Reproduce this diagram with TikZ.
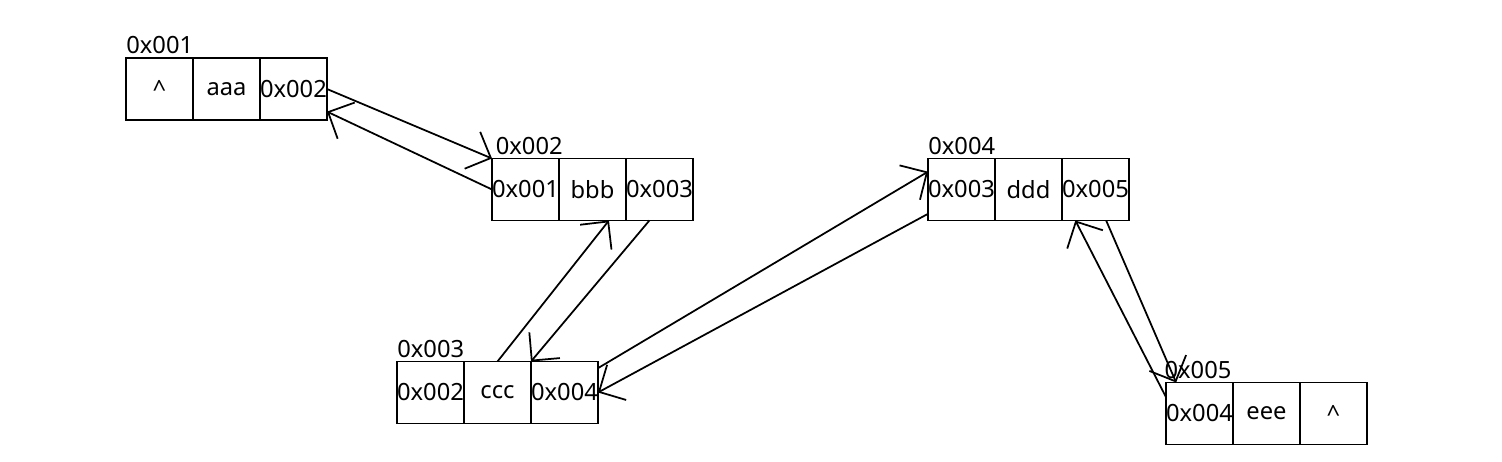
\documentclass[tikz,border=0pt]{standalone}
\usepackage{fontspec}
\setmainfont{Noto Sans}
\usetikzlibrary{arrows.meta,positioning}

\tikzset{
  cell/.style={draw, line width=1pt, minimum width=1.34cm, minimum height=1.24cm,
    inner sep=0pt, outer sep=0pt, font=\fontsize{13.5}{15}\selectfont},
  addr/.style={inner sep=0pt, font=\fontsize{13.5}{15}\selectfont},
  link/.style={line width=1pt, -{Straight Barb[length=4mm,width=8mm]}}
}

\begin{document}
\begin{tikzpicture}[x=0.02cm,y=-0.02cm]
  \useasboundingbox (0,0) rectangle (1502,462);

  % node 0x001
  \node[cell] (n1p) at (159.5,89) {\textasciicircum};
  \node[cell, right=0pt of n1p] (n1d) {aaa};
  \node[cell, right=0pt of n1d] (n1n) {0x002};
  \node[addr, above right=2pt and 0pt of n1p.north west] (a1) {0x001};

  % node 0x002
  \node[cell] (n2p) at (525.5,189.5) {0x001};
  \node[cell, right=0pt of n2p] (n2d) {bbb};
  \node[cell, right=0pt of n2d] (n2n) {0x003};
  \node[addr, above right=2pt and 2pt of n2p.north west] (a2) {0x002};

  % node 0x003
  \node[cell] (n3p) at (430.5,392.5) {0x002};
  \node[cell, right=0pt of n3p] (n3d) {ccc};
  \node[cell, right=0pt of n3d] (n3n) {0x004};
  \node[addr, above right=2pt and 0pt of n3p.north west] (a3) {0x003};

  % node 0x004
  \node[cell] (n4p) at (961.5,189.5) {0x003};
  \node[cell, right=0pt of n4p] (n4d) {ddd};
  \node[cell, right=0pt of n4d] (n4n) {0x005};
  \node[addr, above right=2pt and 0pt of n4p.north west] (a4) {0x004};

  % node 0x005
  \node[cell] (n5p) at (1199.5,413.5) {0x004};
  \node[cell, right=0pt of n5p] (n5d) {eee};
  \node[cell, right=0pt of n5d] (n5n) {\textasciicircum};
  \node[addr, above right=2pt and -1pt of n5p.north west] (a5) {0x005};

  % next / prev links
  \draw[link] (n1n.east) -- (n2p.north west);
  \draw[link] (n2p.west) -- (n1n.-34);
  \draw[link] (n3d.north) -- (n2d.-62);
  \draw[link] (n2n.-108) -- (n3d.north east);
  \draw[link] (n3n.36) -- (n4p.152);
  \draw[link] (n4p.-144) -- (n3n.east);
  \draw[link] (n4n.-71) -- (n5p.127);
  \draw[link] (n5p.154) -- (n4n.-123);
\end{tikzpicture}
\end{document}
